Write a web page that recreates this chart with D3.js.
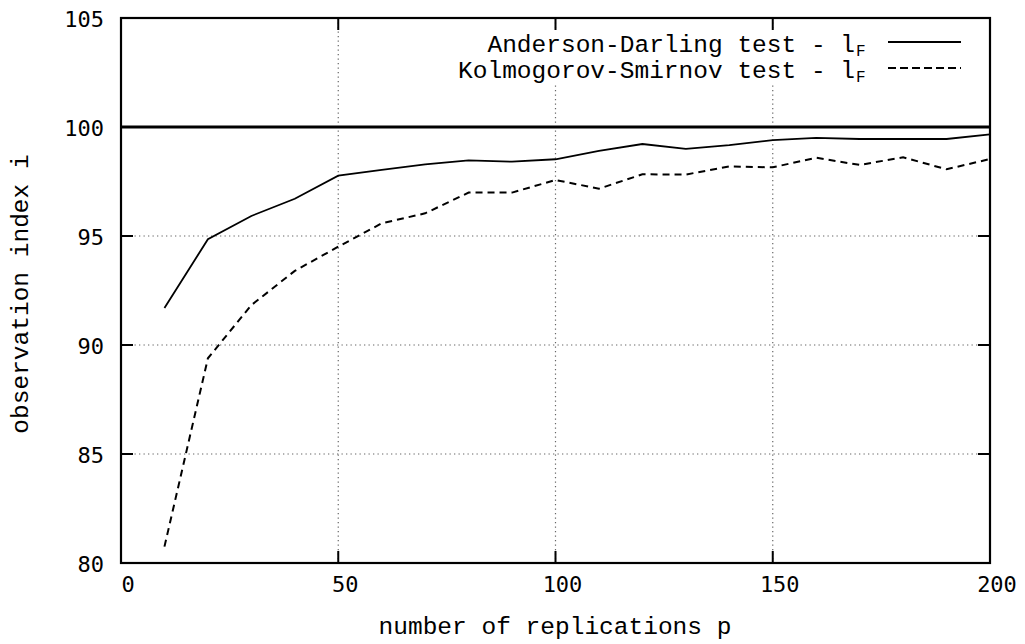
<!DOCTYPE html>
<html>
<head>
<meta charset="utf-8">
<script src="https://cdn.jsdelivr.net/npm/d3@7"></script>
<style>
  html, body { margin: 0; padding: 0; background: #fff; }
  svg { display: block; }
</style>
</head>
<body>
<svg id="chart" width="1025" height="644"></svg>
<script>
// ---- data ----
const replications = [10, 20, 30, 40, 50, 60, 70, 80, 90, 100, 110, 120, 130, 140, 150, 160, 170, 180, 190, 200];
const andersonDarling = [91.7, 94.85, 95.92, 96.71, 97.77, 98.03, 98.29, 98.47, 98.41, 98.52, 98.9, 99.22, 99.0, 99.17, 99.4, 99.5, 99.45, 99.45, 99.45, 99.66];
const kolmogorovSmirnov = [80.75, 89.39, 91.83, 93.4, 94.51, 95.58, 96.04, 96.99, 96.99, 97.57, 97.17, 97.83, 97.82, 98.19, 98.15, 98.59, 98.26, 98.61, 98.06, 98.53];
const referenceLevel = [100];
const xTicks = [0, 50, 100, 150, 200];
const yTicks = [80, 85, 90, 95, 100, 105];
const legendLabels = ["Anderson-Darling test - l", "Kolmogorov-Smirnov test - l"];
const legendSub = "F";
const xTitle = "number of replications p";
const yTitle = "observation index i";

// ---- layout ----
const pLeft = 121, pRight = 990, pTop = 18, pBottom = 563;
const svg = d3.select("#chart");
const x = d3.scaleLinear().domain([0, 200]).range([pLeft, pRight]);
const y = d3.scaleLinear().domain([80, 105]).range([pBottom, pTop]);
const monoSerif = "'Liberation Mono', 'Courier New', monospace";
const monoSans = "'DejaVu Sans Mono', monospace";
const tickLen = 12;

// grid
const grid = svg.append("g").attr("stroke", "#666").attr("stroke-width", 1.2).attr("stroke-dasharray", "1.3,3.2");
grid.selectAll("line.vx").data(xTicks.filter(d => d > 0 && d < 200)).join("line")
  .attr("x1", d => x(d)).attr("x2", d => x(d)).attr("y1", pTop).attr("y2", pBottom);
grid.selectAll("line.hy").data(yTicks.filter(d => d > 80 && d < 105)).join("line")
  .attr("y1", d => y(d)).attr("y2", d => y(d)).attr("x1", pLeft).attr("x2", pRight);

// legend background (blanks the grid)
svg.append("rect").attr("x", 452).attr("y", 29).attr("width", 525).attr("height", 56).attr("fill", "#fff");

// ticks on all sides (inward)
const ticks = svg.append("g").attr("stroke", "#000").attr("stroke-width", 2);
xTicks.forEach(d => {
  ticks.append("line").attr("x1", x(d)).attr("x2", x(d)).attr("y1", pBottom).attr("y2", pBottom - tickLen);
  ticks.append("line").attr("x1", x(d)).attr("x2", x(d)).attr("y1", pTop).attr("y2", pTop + tickLen);
});
yTicks.forEach(d => {
  ticks.append("line").attr("y1", y(d)).attr("y2", y(d)).attr("x1", pLeft).attr("x2", pLeft + tickLen);
  ticks.append("line").attr("y1", y(d)).attr("y2", y(d)).attr("x1", pRight).attr("x2", pRight - tickLen);
});

// tick labels
svg.append("g").selectAll("text").data(xTicks).join("text")
  .attr("x", d => x(d) + 7).attr("y", 584)
  .attr("text-anchor", "middle").attr("dominant-baseline", "central")
  .attr("font-family", monoSans).attr("font-size", 22).attr("fill", "#000")
  .text(d => d);
svg.append("g").selectAll("text").data(yTicks).join("text")
  .attr("x", 104).attr("y", d => y(d) + 1)
  .attr("text-anchor", "end").attr("dominant-baseline", "central")
  .attr("font-family", monoSans).attr("font-size", 22).attr("fill", "#000")
  .text(d => d);

// reference line at 100
svg.append("g").selectAll("line").data(referenceLevel).join("line")
  .attr("x1", x(0)).attr("x2", x(200)).attr("y1", d => y(d)).attr("y2", d => y(d))
  .attr("stroke", "#000").attr("stroke-width", 3);

// series
const line = d3.line().x((d, i) => x(replications[i])).y(d => y(d));
svg.append("path").datum(andersonDarling).attr("d", line)
  .attr("fill", "none").attr("stroke", "#000").attr("stroke-width", 1.8).attr("stroke-linejoin", "miter");
svg.append("path").datum(kolmogorovSmirnov).attr("d", line)
  .attr("fill", "none").attr("stroke", "#000").attr("stroke-width", 2).attr("stroke-dasharray", "7,5");

// border
svg.append("rect").attr("x", pLeft).attr("y", pTop).attr("width", pRight - pLeft).attr("height", pBottom - pTop)
  .attr("fill", "none").attr("stroke", "#000").attr("stroke-width", 2.2);

// legend
const legendRows = [{ty: 52, ly: 42, dash: null}, {ty: 78, ly: 68, dash: "8,4"}];
legendLabels.forEach((lab, i) => {
  const r = legendRows[i];
  svg.append("text").attr("x", 855).attr("y", r.ty)
    .attr("text-anchor", "end").attr("font-family", monoSerif).attr("font-size", 24.5).attr("fill", "#000")
    .text(lab);
  svg.append("text").attr("x", 856).attr("y", r.ty + 4)
    .attr("font-family", monoSerif).attr("font-size", 16).attr("fill", "#000").text(legendSub);
  svg.append("line").attr("x1", 888).attr("x2", 961).attr("y1", r.ly).attr("y2", r.ly)
    .attr("stroke", "#000").attr("stroke-width", 2).attr("stroke-dasharray", r.dash);
});

// axis titles
svg.append("text").attr("x", 555).attr("y", 627)
  .attr("text-anchor", "middle").attr("dominant-baseline", "central")
  .attr("font-family", monoSerif).attr("font-size", 24.5).attr("fill", "#000").text(xTitle);
svg.append("text").attr("transform", "translate(21,294) rotate(-90)")
  .attr("text-anchor", "middle").attr("dominant-baseline", "central")
  .attr("font-family", monoSerif).attr("font-size", 24.5).attr("fill", "#000").text(yTitle);
</script>
</body>
</html>
